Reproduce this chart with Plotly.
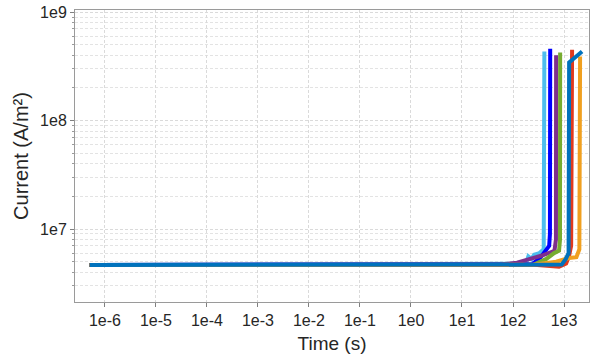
import plotly.graph_objects as go

# Current density transients for seven runs (time in s, current in A/m^2)
cyan_t = [5e-7, 100, 180, 200, 230, 260, 330, 400, 408, 412]
cyan_i = [4.66e6, 4.7e6, 4.8e6, 5.6e6, 5.3e6, 5.8e6, 6.0e6, 6.5e6, 2e7, 4.33e8]

blue_t = [5e-7, 150, 240, 350, 512, 530, 536]
blue_i = [4.66e6, 4.66e6, 4.75e6, 5.5e6, 7.0e6, 9.0e6, 4.6e8]

purple_t = [5e-7, 60, 120, 200, 370, 650, 695, 700]
purple_i = [4.66e6, 4.7e6, 4.9e6, 5.2e6, 5.7e6, 6.3e6, 8e6, 4.0e8]

green_t = [5e-7, 250, 284, 450, 640, 800, 835, 840]
green_i = [4.66e6, 4.66e6, 4.8e6, 5.3e6, 6.0e6, 6.3e6, 8e6, 4.24e8]

red_t = [5e-7, 300, 800, 1100, 1250, 1380, 1440]
red_i = [4.66e6, 4.66e6, 4.5e6, 4.8e6, 5.6e6, 7e6, 4.5e8]

orange_t = [5e-7, 250, 700, 1250, 1750, 2000, 2066]
orange_i = [4.66e6, 4.68e6, 5.0e6, 5.4e6, 5.5e6, 6.5e6, 3.9e8]

dblue_t = [5e-7, 500, 900, 1085, 1230, 1260, 2260]
dblue_i = [4.66e6, 4.66e6, 4.7e6, 5.3e6, 6.0e6, 3.44e8, 4.33e8]

series = [
    (cyan_t, cyan_i, "#4DBEEE"),
    (blue_t, blue_i, "#0000FF"),
    (purple_t, purple_i, "#7E2F8E"),
    (green_t, green_i, "#77AC30"),
    (red_t, red_i, "#E03A1E"),
    (orange_t, orange_i, "#F0A020"),
    (dblue_t, dblue_i, "#0072BD"),
]

x_tickvals = [1e-6, 1e-5, 1e-4, 1e-3, 1e-2, 1e-1, 1e0, 1e1, 1e2, 1e3]
x_ticktext = ["1e-6", "1e-5", "1e-4", "1e-3", "1e-2", "1e-1", "1e0", "1e1", "1e2", "1e3"]
y_tickvals = [1e7, 1e8, 1e9]
y_ticktext = ["1e7", "1e8", "1e9"]
y_minor = [m * 10 ** e for e in (6, 7, 8) for m in range(2, 10)]

fig = go.Figure()
for t, i, c in series:
    fig.add_trace(go.Scatter(x=t, y=i, mode="lines",
                             line=dict(color=c, width=4), showlegend=False))

font_family = "Liberation Sans, Arial, sans-serif"
fig.update_layout(
    width=594, height=362,
    margin=dict(l=75, r=4, t=6, b=60),
    paper_bgcolor="white", plot_bgcolor="white",
    font=dict(family=font_family, color="#262626"),
)
fig.update_xaxes(
    type="log", range=[-6.587, 3.49],
    tickvals=x_tickvals, ticktext=x_ticktext,
    tickfont=dict(size=16, color="#262626"),
    ticks="outside", ticklen=4, tickcolor="#808080",
    showgrid=True, gridcolor="#DADADA", griddash="3px,2px", gridwidth=1,
    showline=True, linecolor="#9A9A9A", mirror=True, zeroline=False,
    title=dict(text="Time (s)", font=dict(size=19, color="#262626"), standoff=8),
)
fig.update_yaxes(
    type="log", range=[6.327, 9.02],
    tickvals=y_tickvals, ticktext=y_ticktext,
    tickfont=dict(size=16, color="#262626"),
    ticks="outside", ticklen=4, tickcolor="#808080",
    ticklabeloverflow="allow",
    showgrid=True, gridcolor="#DADADA", griddash="3px,2px", gridwidth=1,
    minor=dict(tickvals=y_minor, ticks="outside", ticklen=2, tickcolor="#9A9A9A",
               showgrid=True, gridcolor="#E3E3E3", griddash="3px,2px", gridwidth=1),
    showline=True, linecolor="#9A9A9A", mirror=True, zeroline=False,
    title=dict(text="Current (A/m²)", font=dict(size=20, color="#262626"), standoff=6),
)

fig.write_html("out.html")
